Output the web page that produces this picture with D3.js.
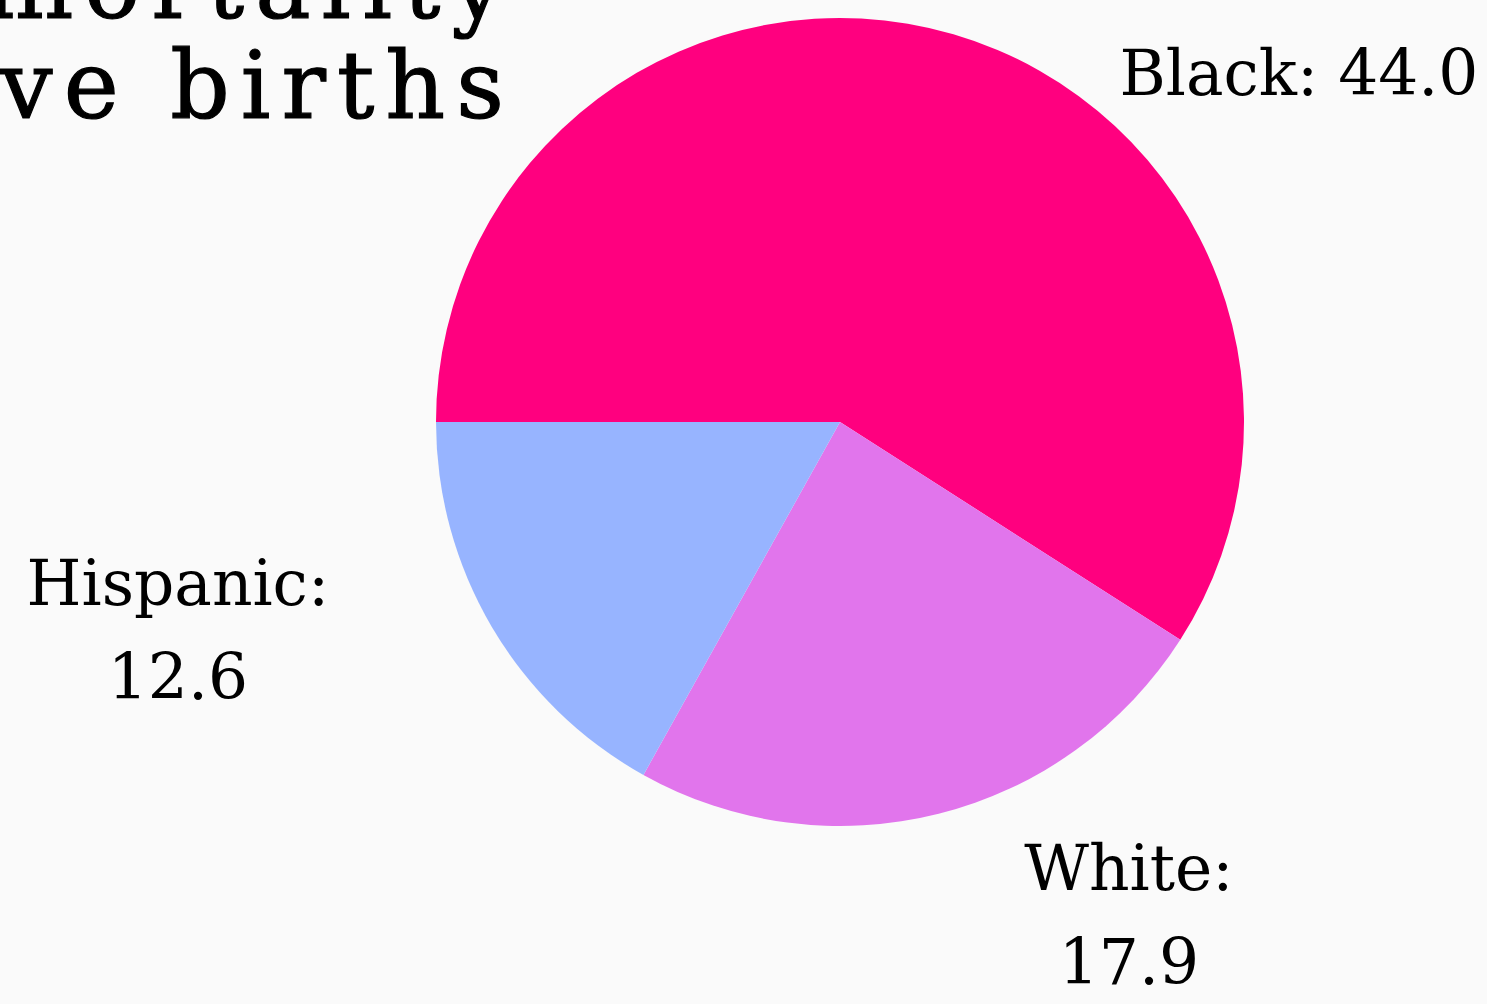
<!DOCTYPE html>
<html>
<head>
<meta charset="utf-8">
<script src="https://cdn.jsdelivr.net/npm/d3@7"></script>
<style>
  html, body { margin: 0; padding: 0; background: #fafafa; overflow: hidden; }
  text { font-family: "DejaVu Serif", "Liberation Serif", serif; fill: #000; }
</style>
</head>
<body>
<div id="chart-area"></div>
<script>
// data
const groups = ["Black", "White", "Hispanic"];
const rates = [44.0, 17.9, 12.6];
const colors = ["#ff007f", "#e175ec", "#97b4ff"];
const titleLines = ["Maternal mortality", "per 100,000 live births"];

const width = 1487;
const height = 1004;
const cx = 840, cy = 422;
const radius = 404;

const svg = d3.select("#chart-area")
  .append("svg")
  .attr("width", width)
  .attr("height", height);

svg.append("rect")
  .attr("width", width)
  .attr("height", height)
  .attr("fill", "#fafafa");

// title, mostly cropped out top-left (as in the source image)
svg.append("g")
  .selectAll("text")
  .data(titleLines)
  .enter()
  .append("text")
  .attr("x", 515)
  .attr("y", (d, i) => 18 + i * 100)
  .attr("text-anchor", "end")
  .attr("font-size", "93px")
  .attr("letter-spacing", "11px")
  .attr("stroke", "#000")
  .attr("stroke-width", 1.2)
  .text(d => d);

const data = groups.map((g, i) => ({ group: g, rate: rates[i], color: colors[i] }));

const pie = d3.pie()
  .value(d => d.rate)
  .sort(null)
  .startAngle(-Math.PI / 2)
  .endAngle(Math.PI * 1.5);

const arc = d3.arc().innerRadius(0).outerRadius(radius);

const g = svg.append("g")
  .attr("transform", `translate(${cx}, ${cy})`);

const arcs = pie(data);

g.selectAll("path")
  .data(arcs)
  .enter()
  .append("path")
  .attr("d", arc)
  .attr("fill", d => d.data.color);

// label anchors relative to pie center, in units of radius
const labelAt = {
  Black: { dx: 1.136, dy: -0.81, lines: 1 },
  White: { dx: 0.715, dy: 1.158, lines: 2 },
  Hispanic: { dx: -1.639, dy: 0.453, lines: 2 }
};

const labels = g.selectAll("text.label")
  .data(arcs)
  .enter()
  .append("text")
  .attr("class", "label")
  .attr("text-anchor", "middle")
  .attr("font-size", "63px")
  .attr("x", d => labelAt[d.data.group].dx * radius)
  .attr("y", d => labelAt[d.data.group].dy * radius);

labels.each(function(d) {
  const t = d3.select(this);
  const pos = labelAt[d.data.group];
  const val = d3.format(".1f")(d.data.rate);
  if (pos.lines === 1) {
    t.text(`${d.data.group}: ${val}`);
  } else {
    t.append("tspan")
      .attr("x", pos.dx * radius)
      .text(`${d.data.group}:`);
    t.append("tspan")
      .attr("x", pos.dx * radius)
      .attr("dy", 94)
      .text(val);
  }
});
</script>
</body>
</html>
